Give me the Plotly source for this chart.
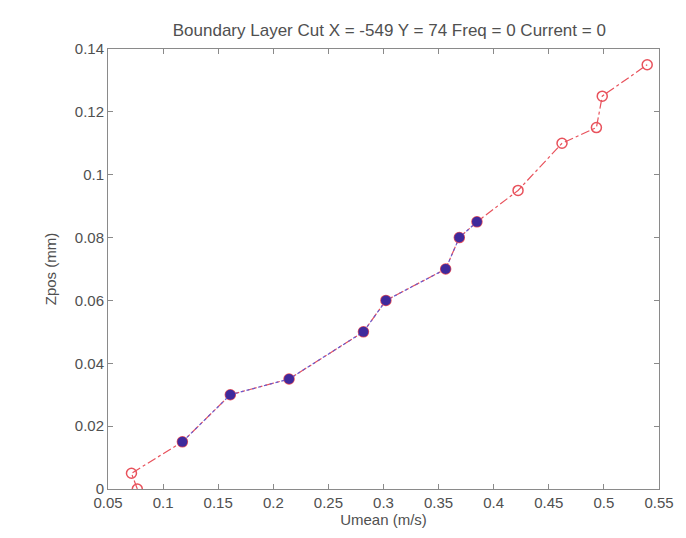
import plotly.graph_objects as go

# Boundary-layer traverse: mean velocity vs. probe height
umean = [0.0766, 0.0713, 0.1175, 0.161, 0.2143, 0.2818, 0.3022, 0.3564,
         0.3688, 0.3848, 0.4221, 0.462, 0.4932, 0.4985, 0.5393]
zpos = [0.0, 0.005, 0.015, 0.03, 0.035, 0.05, 0.06, 0.07,
        0.08, 0.085, 0.095, 0.11, 0.115, 0.125, 0.135]

# points flagged inside the boundary layer
bl_umean = [0.1175, 0.161, 0.2143, 0.2818, 0.3022, 0.3564, 0.3688, 0.3848]
bl_zpos = [0.015, 0.03, 0.035, 0.05, 0.06, 0.07, 0.08, 0.085]

x_ticks = [0.05, 0.1, 0.15, 0.2, 0.25, 0.3, 0.35, 0.4, 0.45, 0.5, 0.55]
x_ticktext = ["0.05", "0.1", "0.15", "0.2", "0.25", "0.3", "0.35", "0.4", "0.45", "0.5", "0.55"]
y_ticks = [0, 0.02, 0.04, 0.06, 0.08, 0.1, 0.12, 0.14]
y_ticktext = ["0", "0.02", "0.04", "0.06", "0.08", "0.1", "0.12", "0.14"]

FONT = "Liberation Sans, Arial, sans-serif"
TXT = "#505050"
FRAME = "#8a8a8a"

fig = go.Figure()
fig.add_trace(go.Scatter(
    x=umean, y=zpos, mode="lines+markers",
    line=dict(color="#e8525c", width=1.2, dash="dashdot"),
    marker=dict(symbol="circle-open", size=10, color="#e8525c", line=dict(width=1.5)),
    showlegend=False,
))
fig.add_trace(go.Scatter(
    x=bl_umean, y=bl_zpos, mode="lines+markers",
    line=dict(color="#6a5acd", width=1.2, dash="dot"),
    marker=dict(symbol="circle", size=10, color="#3f2a9c"),
    showlegend=False,
))

axis_common = dict(
    showline=True, linecolor=FRAME, linewidth=1, mirror="ticks",
    ticks="inside", ticklen=5, tickcolor=FRAME, tickwidth=1,
    showgrid=False, zeroline=False,
    tickfont=dict(family=FONT, size=15, color=TXT),
)

fig.update_layout(
    width=686, height=538,
    margin=dict(l=108, r=15, t=49, b=49),
    paper_bgcolor="white", plot_bgcolor="white",
    title=dict(text="Boundary Layer Cut X = -549 Y = 74 Freq = 0 Current = 0",
               x=0.5675, xanchor="center", y=1 - 30 / 538, yanchor="middle",
               font=dict(family=FONT, size=17, color=TXT)),
    xaxis=dict(range=[0.05, 0.55], tickvals=x_ticks, ticktext=x_ticktext,
               title=dict(text="Umean (m/s)", font=dict(family=FONT, size=15, color=TXT), standoff=2),
               **axis_common),
    yaxis=dict(range=[0, 0.14], tickvals=y_ticks, ticktext=y_ticktext,
               title=dict(text="Zpos (mm)", font=dict(family=FONT, size=15, color=TXT), standoff=14),
               **axis_common),
)

fig.write_html("out.html")
